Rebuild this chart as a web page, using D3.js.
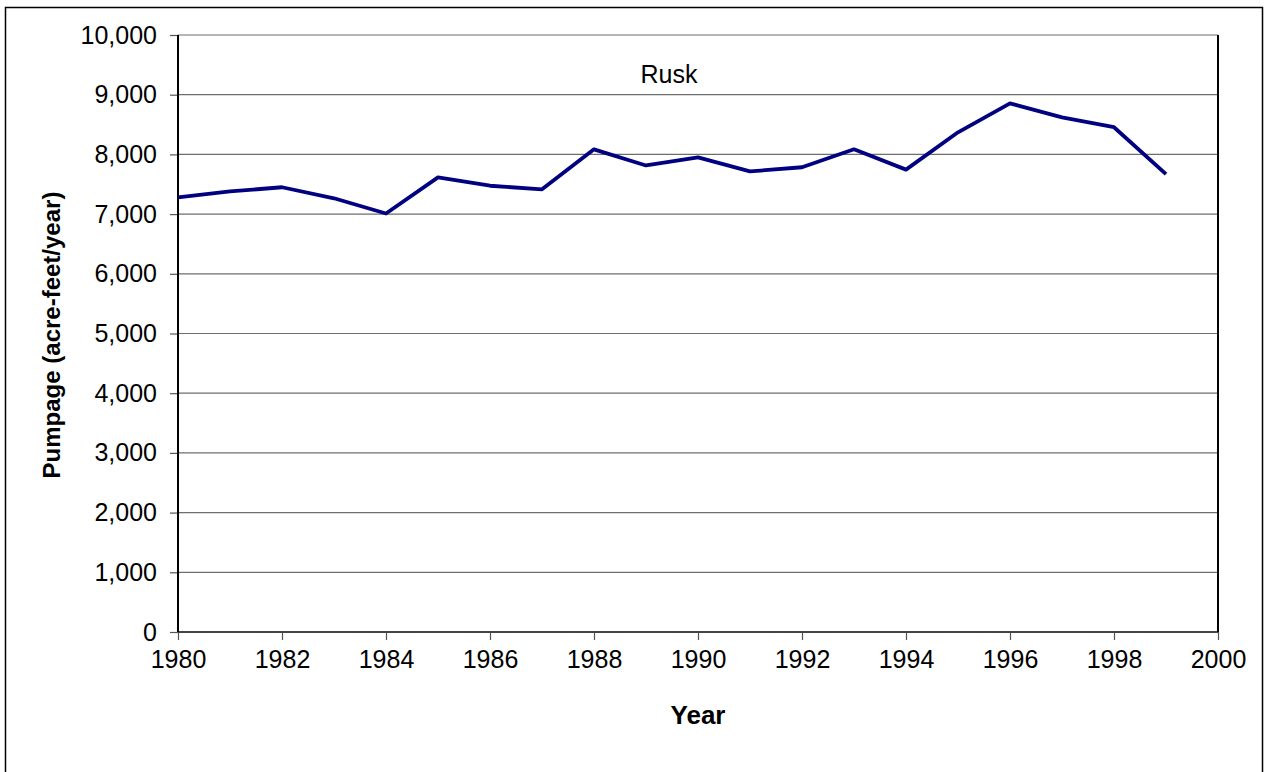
<!DOCTYPE html>
<html>
<head>
<meta charset="utf-8">
<script src="https://cdn.jsdelivr.net/npm/d3@7"></script>
<style>
  html, body { margin: 0; padding: 0; background: #fff; }
  svg { display: block; font-family: "Liberation Sans", Arial, sans-serif; }
</style>
</head>
<body>
<svg id="chart" width="1267" height="772"></svg>
<script>
const years = [1980,1981,1982,1983,1984,1985,1986,1987,1988,1989,1990,1991,1992,1993,1994,1995,1996,1997,1998,1999];
const pumpage = [7280,7380,7450,7265,7010,7615,7475,7415,8085,7815,7950,7715,7785,8085,7745,8370,8855,8620,8455,7670];
const xTicks = [1980,1982,1984,1986,1988,1990,1992,1994,1996,1998,2000];
const yTicks = [0,1000,2000,3000,4000,5000,6000,7000,8000,9000,10000];
const chartTitle = "Rusk";
const xTitle = "Year";
const yTitle = "Pumpage (acre-feet/year)";

const svg = d3.select("#chart");
const L = 178, R = 1218, T = 35, B = 632;

svg.append("rect").attr("x", 5.5).attr("y", 7.5).attr("width", 1257).attr("height", 780)
  .attr("fill", "none").attr("stroke", "#000").attr("stroke-width", 1.5);

const x = d3.scaleLinear().domain([1980, 2000]).range([L, R]);
const y = d3.scaleLinear().domain([0, 10000]).range([B, T]);

// gridlines
svg.append("g").selectAll("line").data(yTicks.filter(d => d > 0)).join("line")
  .attr("x1", L).attr("x2", R).attr("y1", d => y(d)).attr("y2", d => y(d))
  .attr("stroke", "#6e6e6e").attr("stroke-width", 1.2);

// y axis
const yAxis = svg.append("g").attr("transform", `translate(${L},0)`)
  .call(d3.axisLeft(y).tickValues(yTicks).tickSize(8).tickPadding(13).tickFormat(d3.format(",")));
yAxis.select(".domain").remove();
yAxis.selectAll(".tick line").attr("stroke", "#555").attr("stroke-width", 1.2);
yAxis.selectAll(".tick text").attr("font-size", 25).attr("fill", "#000")
  .attr("font-family", "Liberation Sans, Arial, sans-serif");

// x axis
const xAxis = svg.append("g").attr("transform", `translate(0,${B})`)
  .call(d3.axisBottom(x).tickValues(xTicks).tickSize(8).tickPadding(10).tickFormat(d3.format("d")));
xAxis.select(".domain").remove();
xAxis.selectAll(".tick line").attr("stroke", "#555").attr("stroke-width", 1.2);
xAxis.selectAll(".tick text").attr("font-size", 25).attr("fill", "#000")
  .attr("font-family", "Liberation Sans, Arial, sans-serif");

// plot frame lines
svg.append("line").attr("x1", L).attr("x2", R).attr("y1", B).attr("y2", B)
  .attr("stroke", "#444").attr("stroke-width", 2);
svg.append("line").attr("x1", L).attr("x2", L).attr("y1", T).attr("y2", B)
  .attr("stroke", "#000").attr("stroke-width", 2);
svg.append("line").attr("x1", R).attr("x2", R).attr("y1", T).attr("y2", B)
  .attr("stroke", "#000").attr("stroke-width", 2);

// data line
const line = d3.line().x((d, i) => x(years[i])).y(d => y(d));
svg.append("path").datum(pumpage).attr("d", line)
  .attr("fill", "none").attr("stroke", "#000080").attr("stroke-width", 3.8)
  .attr("stroke-linejoin", "round");

// titles
svg.append("text").attr("x", 669).attr("y", 83).attr("text-anchor", "middle")
  .attr("font-size", 25).text(chartTitle);
svg.append("text").attr("x", 698).attr("y", 724).attr("text-anchor", "middle")
  .attr("font-size", 26).attr("font-weight", "bold").text(xTitle);
svg.append("text").attr("transform", "translate(60,335) rotate(-90)").attr("text-anchor", "middle")
  .attr("font-size", 24).attr("font-weight", "bold").text(yTitle);
</script>
</body>
</html>
